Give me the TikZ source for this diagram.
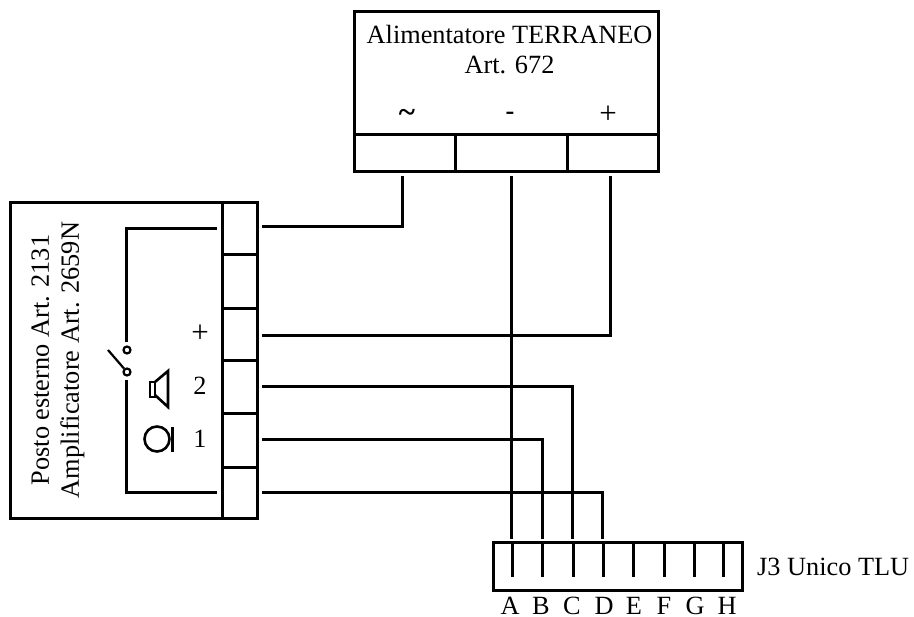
\documentclass[tikz,border=0pt]{standalone}
\usepackage{fontspec}
\setmainfont{Liberation Serif}
\tikzset{
  wire/.style={line width=3pt,line cap=butt,line join=miter},
  frame/.style={wire,draw,inner sep=0pt,outer sep=0pt,anchor=north west},
  lbl/.style={font=\fontsize{26.3}{30}\selectfont,inner sep=0pt,text=black},
  sym/.style={font=\fontsize{31}{31}\selectfont,inner sep=0pt,text=black},
}
\begin{document}
\begin{tikzpicture}[x=1pt,y=-1pt]
\useasboundingbox (0,0) rectangle (914,617);
% power supply
\node[frame,minimum width=304pt,minimum height=160pt] (psu) at (354,12) {};
\coordinate (psuA) at (354,135); \coordinate (psuB) at (658,135);
\draw[wire] (psuA) -- (psuB);
\coordinate (pd1t) at (455,135); \coordinate (pd1b) at (455,172);
\coordinate (pd2t) at (567,135); \coordinate (pd2b) at (567,172);
\draw[wire] (pd1t) -- (pd1b);
\draw[wire] (pd2t) -- (pd2b);
\node[lbl,align=center] (psutext) at (509.5,50) {Alimentatore TERRANEO\\Art. 672};
\node[sym] (tilde) at (407,116) {\textbf{\char`\~}};
\node[lbl] (minus) at (510,116) {\textbf{-}};
\node[sym] (plus) at (608,115) {+};
% door station
\node[frame,minimum width=247pt,minimum height=316pt] (post) at (10,203) {};
\coordinate (div t) at (222,203); \coordinate (div b) at (222,519);
\draw[wire] (div t) -- (div b);
\foreach \n/\y in {a/255,b/309,c/361,d/414,e/468}{
  \coordinate (h\n l) at (222,\y); \coordinate (h\n r) at (257,\y);
  \draw[wire] (h\n l) -- (h\n r);
}
\node[lbl,rotate=90,align=center] (posttext) at (58,360) {Posto esterno Art. 2131\\Amplificatore Art. 2659N};
\node[sym] (lplus) at (200,334) {+};
\node[lbl] (ltwo) at (200,386) {2};
\node[lbl] (lone) at (200,439) {1};
% internal switch loop
\coordinate (i1) at (217,229); \coordinate (i2) at (126,229); \coordinate (i3) at (126,342);
\coordinate (i4) at (126,380); \coordinate (i5) at (126,493); \coordinate (i6) at (217,493);
\draw[wire] (i1) -- (i2) -- (i3);
\draw[wire] (i4) -- (i5) -- (i6);
\node[circle,draw,line width=2.2pt,minimum size=7pt,inner sep=0pt] (sw1) at (127,350) {};
\node[circle,draw,line width=2.2pt,minimum size=7pt,inner sep=0pt] (sw2) at (127,372) {};
\coordinate (lever) at (108,350);
\draw[line width=2.2pt] (lever) -- (sw2);
% speaker
\draw[line width=2.6pt] (150,382) rectangle (155,397);
\draw[line width=2.6pt] (155,382) -- (168,371) -- (168,407) -- (155,395);
% microphone
\node[circle,draw,line width=2.6pt,minimum size=25pt,inner sep=0pt] (mic) at (157,439) {};
\draw[wire] (172,427) -- (172,452);
% connector
\node[frame,minimum width=249pt,minimum height=48pt,draw=none] (j3) at (493,543) {};
\draw[wire] (j3.north west) -- (j3.south west) -- (j3.south east) -- (j3.north east) -- cycle;
\foreach \n/\x/\l/\lx in {A/512/A/510,B/542/B/541,C/573/C/572,D/603/D/604,E/633/E/634,F/664/F/664,G/694/G/695,H/723/H/727}{
  \coordinate (t\n) at (\x,543); \coordinate (b\n) at (\x,577);
  \draw[wire] (t\n) -- (b\n);
  \node[lbl] (l\n) at (\lx,606) {\l};
}
\node[lbl,anchor=west] (j3text) at (757,567) {J3 Unico TLU};
% external wires
\coordinate (w1) at (262,227); \coordinate (w1c) at (402,227); \coordinate (w1e) at (402,176);
\draw[wire] (w1) -- (w1c) -- (w1e);
\coordinate (w3) at (262,336); \coordinate (w3c) at (610,336); \coordinate (w3e) at (610,176);
\draw[wire] (w3) -- (w3c) -- (w3e);
\coordinate (w2s) at (511,176); \coordinate (w2e) at (511,539);
\draw[wire] (w2s) -- (w2e);
\coordinate (w4) at (262,387); \coordinate (w4c) at (572,387); \coordinate (w4e) at (572,539);
\draw[wire] (w4) -- (w4c) -- (w4e);
\coordinate (w5) at (262,440); \coordinate (w5c) at (542,440); \coordinate (w5e) at (542,539);
\draw[wire] (w5) -- (w5c) -- (w5e);
\coordinate (w6) at (262,493); \coordinate (w6c) at (602,493); \coordinate (w6e) at (602,539);
\draw[wire] (w6) -- (w6c) -- (w6e);
\end{tikzpicture}
\end{document}
